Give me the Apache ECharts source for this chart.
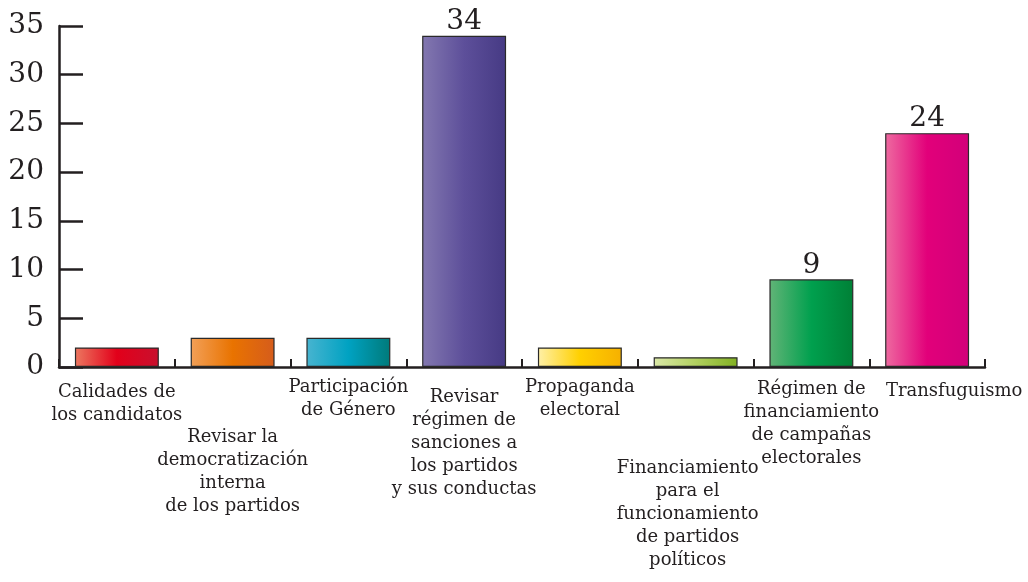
<!DOCTYPE html>
<html>
<head>
<meta charset="utf-8">
<script src="https://cdn.jsdelivr.net/npm/echarts@6/dist/echarts.min.js"></script>
<style>
  html, body { margin: 0; padding: 0; background: #fff; }
  #chart { width: 1028px; height: 582px; }
</style>
</head>
<body>
<div id="chart"></div>
<script>
var categories = [
  'Calidades de\nlos candidatos',
  'Revisar la\ndemocratización\ninterna\nde los partidos',
  'Participación\nde Género',
  'Revisar\nrégimen de\nsanciones a\nlos partidos\ny sus conductas',
  'Propaganda\nelectoral',
  'Financiamiento\npara el\nfuncionamiento\nde partidos\npolíticos',
  'Régimen de\nfinanciamiento\nde campañas\nelectorales',
  'Transfuguismo'
];
var values = [2, 3, 3, 34, 2, 1, 9, 24];
var shownValues = [null, null, null, 34, null, null, 9, 24];
var yTicks = [0, 5, 10, 15, 20, 25, 30, 35];

// left / middle / right colour of each bar
var barColors = [
  ['#ec7860', '#e2001a', '#c9102e'],
  ['#f2a058', '#e97300', '#d55c1c'],
  ['#48b4d0', '#00a2c2', '#007a7a'],
  ['#8378b0', '#5d4f9a', '#463a84'],
  ['#fff0a8', '#ffd000', '#f6b000'],
  ['#dbe8a8', '#b2d060', '#82b122'],
  ['#62b477', '#00a04e', '#008036'],
  ['#ee6aa0', '#e2007a', '#d2007a']
];

// per label [top, left] padding, to get the staggered layout
var labelPad = [[5, 0], [50, 0], [0, 0], [10, 0], [0, 0], [81, -16], [2, 0], [4, 54]];

var chart = echarts.init(document.getElementById('chart'));

var axisData = categories.map(function (c, i) {
  var p = labelPad[i];
  return {
    value: c,
    textStyle: { padding: [p[0], p[1] < 0 ? -p[1] : 0, 0, p[1] > 0 ? p[1] : 0] }
  };
});

var barData = values.map(function (v, i) {
  var c = barColors[i];
  return {
    value: v,
    itemStyle: {
      color: new echarts.graphic.LinearGradient(0, 0, 1, 0, [
        { offset: 0, color: c[0] },
        { offset: 0.5, color: c[1] },
        { offset: 1, color: c[2] }
      ])
    },
    label: { show: shownValues[i] !== null }
  };
});

var option = {
  animation: false,
  grid: { left: 59, right: 43, top: 26, bottom: 215 },
  xAxis: {
    type: 'category',
    data: axisData,
    axisLine: { lineStyle: { color: '#231f20', width: 2.5 } },
    axisTick: { show: true, interval: 0, inside: true, length: 8, lineStyle: { color: '#231f20', width: 2 } },
    axisLabel: {
      interval: 0,
      margin: 9,
      fontFamily: 'DejaVu Serif',
      fontSize: 18,
      lineHeight: 23,
      color: '#231f20'
    }
  },
  yAxis: {
    type: 'value',
    min: yTicks[0],
    max: yTicks[yTicks.length - 1],
    interval: 5,
    splitLine: { show: false },
    axisLine: { show: true, lineStyle: { color: '#231f20', width: 2.5 } },
    axisTick: { show: true, inside: true, length: 24, lineStyle: { color: '#231f20', width: 2.5 } },
    axisLabel: {
      margin: 15,
      fontFamily: 'DejaVu Serif',
      fontSize: 28,
      color: '#231f20'
    }
  },
  series: [{
    type: 'bar',
    data: barData,
    barCategoryGap: '27.5%',
    itemStyle: { borderColor: '#2a2a2a', borderWidth: 1.2 },
    label: {
      position: 'top',
      distance: 0,
      fontFamily: 'DejaVu Serif',
      fontSize: 28,
      color: '#231f20'
    }
  }]
};

chart.setOption(option);
</script>
</body>
</html>
